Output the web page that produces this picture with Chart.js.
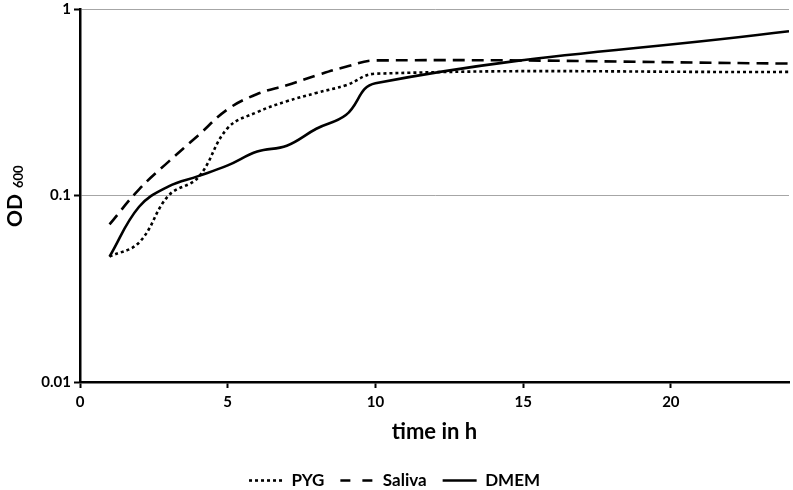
<!DOCTYPE html>
<html>
<head>
<meta charset="utf-8">
<script src="https://cdn.jsdelivr.net/npm/chart.js@4.4.0/dist/chart.umd.min.js"></script>
<style>
  html, body { margin: 0; padding: 0; background: #fff; }
  #wrap { width: 793px; height: 490px; }
</style>
</head>
<body>
<div id="wrap"><canvas id="growth"></canvas></div>
<script>
// growth curves, OD600
const hours  = [1, 2, 3, 4, 5, 6, 7, 8, 9, 10, 24];
const pyg    = [0.047, 0.056, 0.10, 0.125, 0.23, 0.28, 0.32, 0.355, 0.39, 0.45, 0.46];
const saliva = [0.070, 0.108, 0.152, 0.21, 0.29, 0.35, 0.39, 0.44, 0.49, 0.53, 0.51];
const dmem   = [0.047, 0.087, 0.112, 0.127, 0.145, 0.172, 0.185, 0.228, 0.27, 0.40, 0.76];

const xTicks = [0, 5, 10, 15, 20];
const yTicks = [0.01, 0.1, 1];

const FONT = 'Lato, "Open Sans", sans-serif';

const toPoints = arr => arr.map((v, i) => ({ x: hours[i], y: v }));

// y axis title with subscript (OD 600)
const odTitle = {
  id: 'odTitle',
  afterInit(chart) {
    // fixed legend height so the plot keeps its place
    const legend = chart.legend;
    const fit = legend.fit.bind(legend);
    legend.fit = function () { fit(); this.height = 34; };
  },
  afterDraw(chart) {
    const ctx = chart.ctx;
    ctx.save();
    ctx.translate(15, 227);
    ctx.rotate(-Math.PI / 2);
    ctx.fillStyle = '#000';
    ctx.textBaseline = 'middle';
    ctx.textAlign = 'left';
    ctx.font = 'bold 21px ' + FONT;
    ctx.fillText('OD', 0, 0);
    const w = ctx.measureText('OD').width;
    ctx.font = 'bold 13px ' + FONT;
    ctx.fillText('600', w + 6, 4);
    ctx.restore();
  }
};

const lineStyle = { borderColor: '#000', backgroundColor: '#000', borderWidth: 2.6, pointRadius: 0, tension: 0.4, fill: false };

// legend samples keep the dash pattern of their dataset
const legendLabels = chart => {
  const items = Chart.defaults.plugins.legend.labels.generateLabels(chart);
  items.forEach(it => {
    const ds = chart.data.datasets[it.datasetIndex];
    it.lineDash = ds.legendDash || [];
    it.lineWidth = ds.borderWidth;
    it.strokeStyle = '#000';
  });
  return items;
};

new Chart(document.getElementById('growth').getContext('2d'), {
  type: 'line',
  data: {
    datasets: [
      { label: 'PYG', data: toPoints(pyg), ...lineStyle, borderDash: [3, 3], legendDash: [3, 3] },
      { label: 'Saliva', data: toPoints(saliva), ...lineStyle, borderDash: [12, 7], legendDash: [10, 12] },
      { label: 'DMEM', data: toPoints(dmem), ...lineStyle }
    ]
  },
  options: {
    responsive: true,
    maintainAspectRatio: false,
    animation: false,
    layout: { padding: { left: 0, right: 4, top: 0, bottom: 0 } },
    plugins: {
      tooltip: { enabled: false },
      legend: {
        position: 'bottom',
        labels: {
          usePointStyle: true,
          pointStyle: 'line',
          pointStyleWidth: 34,
          padding: 16,
          color: '#000',
          font: { family: FONT, size: 17, weight: 'bold' },
          generateLabels: legendLabels
        }
      }
    },
    scales: {
      x: {
        type: 'linear',
        min: 0,
        max: 24,
        afterBuildTicks: s => { s.ticks = xTicks.map(v => ({ value: v })); },
        afterFit: s => { s.height = 74; },
        grid: { drawOnChartArea: false, drawTicks: true, tickLength: 6, tickColor: '#000', tickWidth: 2 },
        border: { color: '#000', width: 2.5 },
        ticks: { color: '#000', padding: 5, maxRotation: 0, font: { family: FONT, size: 15, weight: 'bold' } },
        title: {
          display: true,
          text: 'time in h',
          color: '#000',
          padding: { top: 0, bottom: 11 },
          font: { family: FONT, size: 22, weight: 'bold' }
        }
      },
      y: {
        type: 'logarithmic',
        min: 0.01,
        max: 1,
        afterBuildTicks: s => { s.ticks = yTicks.map(v => ({ value: v })); },
        afterFit: s => { s.width = 80; },
        grid: { color: '#a6a6a6', lineWidth: 1, drawTicks: true, tickLength: 6, tickColor: '#000', tickWidth: 2 },
        border: { color: '#000', width: 2.5 },
        ticks: { color: '#000', padding: 3, callback: v => String(v), font: { family: FONT, size: 15, weight: 'bold', lineHeight: 0.8 } }
      }
    }
  },
  plugins: [odTitle]
});
</script>
</body>
</html>
